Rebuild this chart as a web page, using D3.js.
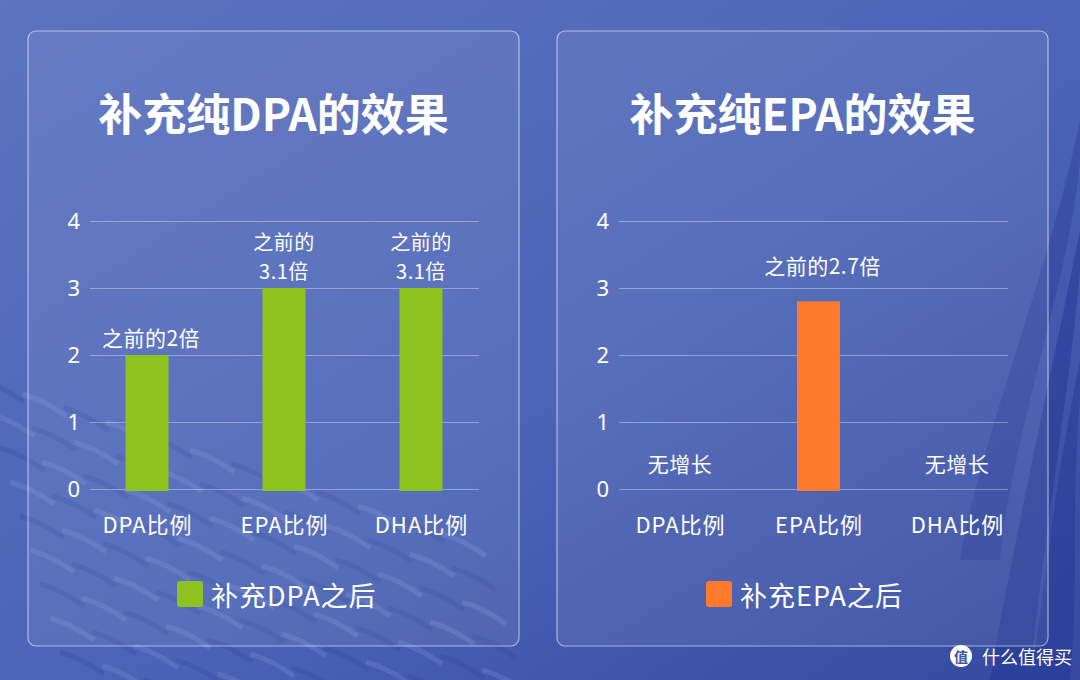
<!DOCTYPE html>
<html>
<head>
<meta charset="utf-8">
<script src="https://cdn.jsdelivr.net/npm/d3@7"></script>
<style>
  html, body { margin: 0; padding: 0; background: #4a64b6; }
  svg { display: block; font-family: "Noto Sans CJK SC", "Noto Sans", sans-serif; }
</style>
</head>
<body>
<div id="chart"></div>
<script>
// data
var categories = ["DPA比例", "EPA比例", "DHA比例"];
var dpaValues = [2, 3, 3];
var epaValues = [0, 2.8, 0];
var dpaLabels = [["之前的2倍"], ["之前的", "3.1倍"], ["之前的", "3.1倍"]];
var epaLabels = [["无增长"], ["之前的2.7倍"], ["无增长"]];
var yTicks = [0, 1, 2, 3, 4];

var panels = [
  { x0: 28, title: "补充纯DPA的效果", legend: "补充DPA之后", color: "#8dc21f",
    values: dpaValues, labels: dpaLabels, lift: 18, band: [119, 393] },
  { x0: 557, title: "补充纯EPA的效果", legend: "补充EPA之后", color: "#ff7a2a",
    values: epaValues, labels: epaLabels, lift: 36, band: [123, 400] }
];

var svgWidth = 1080;
var svgHeight = 680;
var panelW = 491, panelH = 615, panelY = 31;

var svg = d3.select("#chart")
  .append("svg")
  .attr("width", svgWidth)
  .attr("height", svgHeight);

// background
var defs = svg.append("defs");
var bg = defs.append("linearGradient").attr("id", "bg")
  .attr("x1", 0).attr("y1", 0).attr("x2", 1).attr("y2", 1);
bg.append("stop").attr("offset", "0%").attr("stop-color", "#5b73c0");
bg.append("stop").attr("offset", "55%").attr("stop-color", "#4b64b6");
bg.append("stop").attr("offset", "100%").attr("stop-color", "#34499f");

svg.append("rect").attr("width", svgWidth).attr("height", svgHeight).attr("fill", "url(#bg)");

// soft backdrop texture: short diagonal scales at bottom-left
var deco = svg.append("g").attr("fill", "none");
d3.range(0, 9).forEach(function (r) {
  d3.range(0, 12).forEach(function (c) {
    var sx = -20 + c * 42 + r * 10, sy = 380 + r * 34 + c * 14;
    if (sy > 690) return;
    deco.append("path")
      .attr("d", `M${sx},${sy} q22,6 44,22`)
      .attr("stroke", (r + c) % 2 ? "#8fa3e2" : "#2b3f98")
      .attr("stroke-opacity", 0.22)
      .attr("stroke-width", 5);
  });
});
// dark swooshes at the right edge
[[1080, 230, 990, 680, 0.45], [1080, 360, 1030, 680, 0.4], [1080, 120, 960, 560, 0.3]].forEach(function (s) {
  deco.append("path")
    .attr("d", `M${s[0]},${s[1]} C${s[0] - 30},${s[1] + 150} ${s[2] + 20},${s[3] - 120} ${s[2]},${s[3]} L${s[2] + 40},${s[3]} C${s[2] + 50},${s[3] - 120} ${s[0] - 10},${s[1] + 160} ${s[0]},${s[1] + 40} Z`)
    .attr("fill", "#1e3290")
    .attr("fill-opacity", s[4]);
});

var y = d3.scaleLinear().domain([0, 4]).range([489, 221]);

panels.forEach(function (p) {
  var g = svg.append("g");

  g.append("rect")
    .attr("x", p.x0).attr("y", panelY)
    .attr("width", panelW).attr("height", panelH)
    .attr("rx", 8)
    .attr("fill", "#ffffff").attr("fill-opacity", 0.07)
    .attr("stroke", "#ffffff").attr("stroke-opacity", 0.55).attr("stroke-width", 1.2);

  g.append("text")
    .attr("x", p.x0 + panelW / 2).attr("y", 112)
    .attr("text-anchor", "middle").attr("dominant-baseline", "central")
    .attr("fill", "#fff").attr("font-size", 44).attr("font-weight", 700)
    .text(p.title);

  var x = d3.scalePoint().domain(categories)
    .range([p.x0 + p.band[0], p.x0 + p.band[1]]);

  // gridlines + y tick labels
  var yAxis = g.append("g")
    .attr("transform", `translate(${p.x0 + 62},0)`)
    .call(d3.axisLeft(y).tickValues(yTicks).tickFormat(d3.format("d")).tickSize(-389).tickPadding(10));
  yAxis.select(".domain").remove();
  yAxis.selectAll(".tick line").attr("stroke", "#ffffff").attr("stroke-opacity", 0.35);
  yAxis.selectAll(".tick text")
    .attr("fill", "#fff").attr("font-size", 22)
    .attr("font-family", "\"Noto Sans\", sans-serif");

  // x labels
  var xAxis = g.append("g")
    .attr("transform", "translate(0,489)")
    .call(d3.axisBottom(x).tickSize(0).tickPadding(28));
  xAxis.select(".domain").remove();
  xAxis.selectAll(".tick text")
    .attr("fill", "#fff").attr("font-size", 22).attr("letter-spacing", 1)
    .attr("font-family", "\"Noto Sans CJK SC\", sans-serif");

  var bw = 43;
  g.selectAll("rect.bar")
    .data(p.values)
    .enter()
    .append("rect")
    .attr("class", "bar")
    .attr("x", (d, i) => x(categories[i]) - bw / 2)
    .attr("y", d => y(d))
    .attr("width", bw)
    .attr("height", d => y(0) - y(d) + 2)
    .attr("fill", p.color)
    .attr("display", d => d > 0 ? null : "none");

  // value labels above bars
  p.labels.forEach(function (lines, i) {
    var v = p.values[i];
    var base = v > 0 ? y(v) - p.lift : y(0) - 26;
    var t = g.append("text")
      .attr("x", x(categories[i]) + (lines.length === 1 && v > 0 ? 4 : 0))
      .attr("y", base - (lines.length - 1) * 29)
      .attr("text-anchor", "middle").attr("dominant-baseline", "central")
      .attr("fill", "#fff").attr("font-size", lines.length > 1 ? 20 : 21)
      .attr("letter-spacing", 0.5);
    lines.forEach(function (line, k) {
      t.append("tspan")
        .attr("x", t.attr("x"))
        .attr("dy", k === 0 ? 0 : 29)
        .text(line);
    });
  });

  // legend
  var lg = g.append("g").attr("transform", `translate(${p.x0 + 149},581)`);
  lg.append("rect").attr("width", 26).attr("height", 26).attr("rx", 3).attr("fill", p.color);
  lg.append("text")
    .attr("x", 34).attr("y", 13)
    .attr("dominant-baseline", "central")
    .attr("fill", "#fff").attr("font-size", 27).attr("letter-spacing", 1)
    .text(p.legend);
});

// watermark
var wm = svg.append("g").attr("transform", "translate(961,656)");
wm.append("circle").attr("r", 11).attr("fill", "#fff");
wm.append("text").attr("text-anchor", "middle").attr("dominant-baseline", "central")
  .attr("fill", "#3a55ad").attr("font-size", 14).attr("font-weight", 700).text("值");
wm.append("text").attr("x", 21).attr("dominant-baseline", "central")
  .attr("fill", "#fff").attr("font-size", 18).text("什么值得买");
</script>
</body>
</html>
